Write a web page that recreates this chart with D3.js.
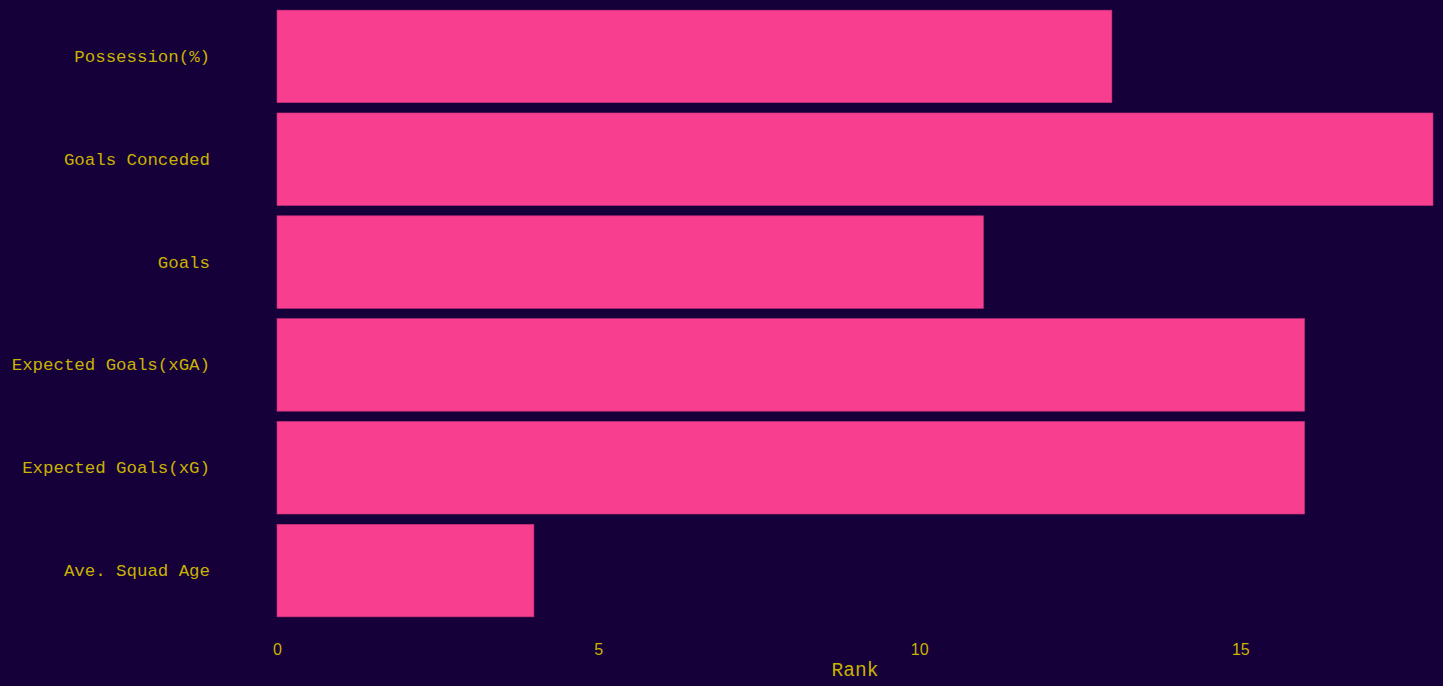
<!DOCTYPE html>
<html><head><meta charset="utf-8">
<script src="https://cdn.jsdelivr.net/npm/d3@7"></script>
<style>html,body{margin:0;padding:0;background:#15003a;overflow:hidden}</style>
</head><body>
<svg id="c" width="1443" height="686"></svg>
<script>
const categories = ["Possession(%)","Goals Conceded","Goals","Expected Goals(xGA)","Expected Goals(xG)","Ave. Squad Age"];
const ranks = [13, 18, 11, 16, 16, 4];
const xTicks = [0, 5, 10, 15];

const svg = d3.select("#c");
const textCol = "#c8b300";
svg.append("rect").attr("width",1443).attr("height",686).attr("fill","#15003a");

const x = d3.scaleLinear().domain([0,18]).range([277,1433]);
const y = d3.scaleBand().domain(categories).range([5,622]).paddingInner(0.1).paddingOuter(0.05);

svg.selectAll("rect.bar").data(categories).join("rect").attr("class","bar")
  .attr("x", x(0)).attr("y", d=>y(d))
  .attr("width", (d,i)=>x(ranks[i])-x(0)).attr("height", y.bandwidth())
  .attr("fill","#f73e8f").attr("stroke","#c4307a").attr("stroke-width",0.6);

const yAxis = svg.append("g").attr("transform","translate(277,0)")
  .call(d3.axisLeft(y).tickSize(0).tickPadding(67));
yAxis.select(".domain").remove();
yAxis.selectAll("text").attr("fill",textCol)
  .style("font-family","'Liberation Mono', 'Courier New', monospace").style("font-size","17.4px");

const xAxis = svg.append("g").attr("transform","translate(0,632)")
  .call(d3.axisBottom(x).tickValues(xTicks).tickSize(0).tickPadding(12));
xAxis.select(".domain").remove();
xAxis.selectAll("text").attr("fill",textCol)
  .style("font-family","'Liberation Sans', Arial, sans-serif").style("font-size","16px");

svg.append("text").attr("x", (x(0)+x(18))/2).attr("y", 676).attr("text-anchor","middle")
  .attr("fill",textCol).style("font-family","'Liberation Mono', 'Courier New', monospace")
  .style("font-size","19.5px").text("Rank");
</script>
</body></html>
